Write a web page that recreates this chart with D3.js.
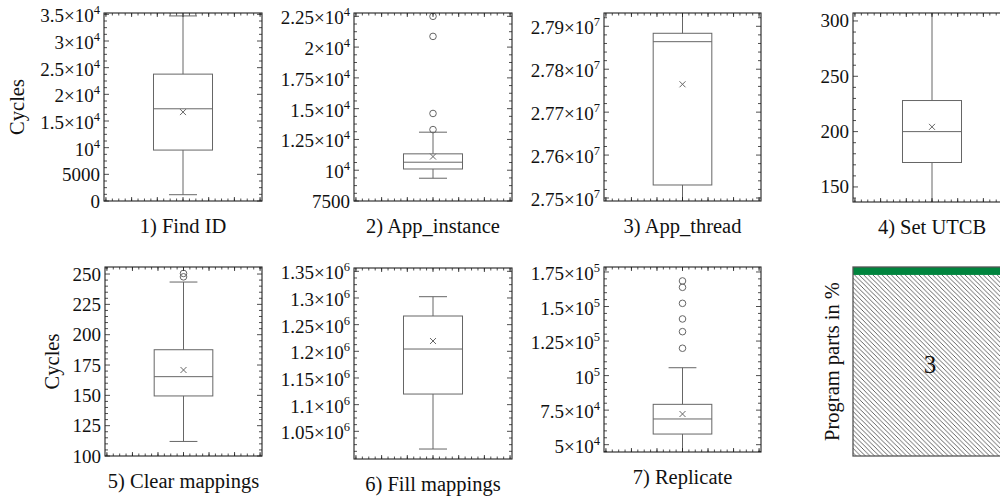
<!DOCTYPE html>
<html>
<head>
<meta charset="utf-8">
<script src="https://cdn.jsdelivr.net/npm/d3@7"></script>
<style>
  body { margin: 0; background: #fff; }
  text { font-family: "Liberation Serif", serif; fill: #111; }
</style>
</head>
<body>
<div id="chart"></div>
<script>
// box plot statistics, one entry per panel
var captions = ["1) Find ID", "2) App_instance", "3) App_thread", "4) Set UTCB",
                "5) Clear mappings", "6) Fill mappings", "7) Replicate"];
var lowWhisker  = [1180, 9350, 27480000, 120, 112, 1016800, 43000];
var q1          = [9550, 10100, 27530300, 172.1, 149.5, 1119900, 57700];
var median      = [17290, 10650, 27864200, 200, 165.4, 1204300, 68600];
var q3          = [23790, 11330, 27883750, 228.1, 187.6, 1266200, 79200];
var highWhisker = [34700, 13090, 27960000, 320, 243.4, 1302400, 105700];
var means       = [16670, 11110, 27764900, 204.3, 170.9, 1219300, 72200];
var outliers = [
  [],
  [13300, 14610, 20870, 22500],
  [],
  [],
  [247.7, 250.5],
  [],
  [119800, 131800, 141000, 152300, 163900, 168500]
];
var yDomains = [[0, 35250], [7500, 22770], [27493000, 27931000], [136.4, 307.2],
                [100, 255.8], [998100, 1356200], [44700, 178600]];
var yTicks = [
  [0, 5000, 10000, 15000, 20000, 25000, 30000, 35000],
  [7500, 10000, 12500, 15000, 17500, 20000, 22500],
  [27500000, 27600000, 27700000, 27800000, 27900000],
  [150, 200, 250, 300],
  [100, 125, 150, 175, 200, 225, 250],
  [1050000, 1100000, 1150000, 1200000, 1250000, 1300000, 1350000],
  [50000, 75000, 100000, 125000, 150000, 175000]
];
var yLabels = ["Cycles", "", "", "", "Cycles", "", ""];

// program parts panel (stacked, in %)
var partLabels = ["3", ""];
var partShares = [95.8, 4.2];

// frame placement of each panel
var frames = [
  {x0: 104, x1: 262, y0: 13,  y1: 201, minor: 3, ylab: 24},
  {x0: 354, x1: 512, y0: 13,  y1: 201, minor: 3},
  {x0: 604, x1: 761, y0: 13,  y1: 201, minor: 4},
  {x0: 853, x1: 1011, y0: 13, y1: 202, minor: 4},
  {x0: 105, x1: 262, y0: 267, y1: 456, minor: 4, ylab: 59},
  {x0: 354, x1: 512, y0: 268, y1: 459, minor: 3},
  {x0: 604, x1: 761, y0: 267, y1: 452, minor: 4}
];
var partsFrame = {x0: 853, x1: 1011, y0: 267, y1: 456};

var boxColor = "#666";
var frameColor = "#222";
var labelSize = 20.5;

var svg = d3.select("#chart")
  .append("svg")
  .attr("width", 1000)
  .attr("height", 498);

var defs = svg.append("defs");

// hatch pattern (north west lines)
var hatch = defs.append("pattern")
  .attr("id", "hatch")
  .attr("patternUnits", "userSpaceOnUse")
  .attr("width", 4.6)
  .attr("height", 4.6);
hatch.append("path")
  .attr("d", "M0,0 L4.6,4.6 M-1,3.6 L1,5.6 M3.6,-1 L5.6,1")
  .attr("stroke", "#222")
  .attr("stroke-width", 0.7);

function tickLabel(sel, v) {
  if (Math.abs(v) < 10000) {
    sel.text(String(v));
    return false;
  }
  var e = Math.floor(Math.log10(v));
  var m = +(v / Math.pow(10, e)).toFixed(4);
  sel.append("tspan").text((m === 1 ? "" : m + "\u00d7") + "10");
  sel.append("tspan").attr("font-size", 12.5).attr("dy", -8).text(e);
  return true;
}

frames.forEach(function (f, i) {
  var g = svg.append("g");

  var x = d3.scaleLinear().domain([0.385, 1.615]).range([f.x0, f.x1]);
  var y = d3.scaleLinear().domain(yDomains[i]).range([f.y1, f.y0]);

  defs.append("clipPath").attr("id", "clip" + i)
    .append("rect")
    .attr("x", f.x0).attr("y", f.y0)
    .attr("width", f.x1 - f.x0).attr("height", f.y1 - f.y0);

  var plot = g.append("g").attr("clip-path", "url(#clip" + i + ")");
  var cx = x(1), bw = x(1.2297) - x(1), cw = x(1.109) - x(1);

  // whiskers
  plot.append("line")
    .attr("x1", cx).attr("x2", cx)
    .attr("y1", y(highWhisker[i])).attr("y2", y(q3[i]))
    .attr("stroke", boxColor);
  plot.append("line")
    .attr("x1", cx).attr("x2", cx)
    .attr("y1", y(q1[i])).attr("y2", y(lowWhisker[i]))
    .attr("stroke", boxColor);
  [highWhisker[i], lowWhisker[i]].forEach(function (w) {
    plot.append("line")
      .attr("x1", cx - cw).attr("x2", cx + cw)
      .attr("y1", y(w)).attr("y2", y(w))
      .attr("stroke", boxColor);
  });

  // box and median
  plot.append("rect")
    .attr("x", cx - bw).attr("width", 2 * bw)
    .attr("y", y(q3[i])).attr("height", y(q1[i]) - y(q3[i]))
    .attr("fill", "none").attr("stroke", boxColor);
  plot.append("line")
    .attr("x1", cx - bw).attr("x2", cx + bw)
    .attr("y1", y(median[i])).attr("y2", y(median[i]))
    .attr("stroke", boxColor);

  // mean cross
  var my = y(means[i]);
  plot.append("path")
    .attr("d", "M" + (cx - 3) + "," + (my - 3) + "L" + (cx + 3) + "," + (my + 3) +
               "M" + (cx - 3) + "," + (my + 3) + "L" + (cx + 3) + "," + (my - 3))
    .attr("stroke", boxColor);

  // outliers
  plot.selectAll("circle")
    .data(outliers[i])
    .enter()
    .append("circle")
    .attr("cx", cx)
    .attr("cy", d => y(d))
    .attr("r", 3.3)
    .attr("fill", "none")
    .attr("stroke", boxColor);

  // y ticks, mirrored on the right
  var ticks = yTicks[i];
  var step = ticks[1] - ticks[0];
  var minors = [];
  for (var t = ticks[0] - step; t <= ticks[ticks.length - 1] + step; t += step) {
    for (var k = 1; k <= f.minor; k++) {
      var mv = t + k * step / (f.minor + 1);
      if (mv > yDomains[i][0] && mv < yDomains[i][1]) minors.push(mv);
    }
  }
  [[ticks, 5], [minors, 3]].forEach(function (p) {
    g.selectAll(null)
      .data(p[0])
      .enter()
      .append("path")
      .attr("d", d => "M" + f.x0 + "," + y(d) + "h" + p[1] + "M" + f.x1 + "," + y(d) + "h" + (-p[1]))
      .attr("stroke", frameColor)
      .attr("stroke-width", 0.8);
  });

  // x ticks, mirrored on top
  var xMajor = d3.range(-3, 4).map(d => 1 + d * 0.2).filter(d => d > 0.39 && d < 1.61);
  var xMinor = d3.range(-12, 13).map(d => 1 + d * 0.05).filter(d => d > 0.39 && d < 1.61);
  [[xMajor, 4], [xMinor, 2.5]].forEach(function (p) {
    g.selectAll(null)
      .data(p[0])
      .enter()
      .append("path")
      .attr("d", d => "M" + x(d) + "," + f.y1 + "v" + (-p[1]) + "M" + x(d) + "," + f.y0 + "v" + p[1])
      .attr("stroke", frameColor)
      .attr("stroke-width", 0.8);
  });

  // frame
  g.append("rect")
    .attr("x", f.x0).attr("y", f.y0)
    .attr("width", f.x1 - f.x0).attr("height", f.y1 - f.y0)
    .attr("fill", "none").attr("stroke", frameColor).attr("stroke-width", 1.1);

  // tick labels
  ticks.forEach(function (v) {
    var tx = g.append("text")
      .attr("x", f.x0 - 4)
      .attr("text-anchor", "end")
      .attr("font-size", 19);
    var sci = tickLabel(tx, v);
    tx.attr("y", y(v) + (sci ? 8 : 6.5));
  });

  // caption
  g.append("text")
    .attr("x", (f.x0 + f.x1) / 2)
    .attr("y", f.y1 + 32)
    .attr("text-anchor", "middle")
    .attr("font-size", labelSize)
    .text(captions[i]);

  if (yLabels[i]) {
    g.append("text")
      .attr("transform", "translate(" + f.ylab + "," + ((f.y0 + f.y1) / 2) + ") rotate(-90)")
      .attr("text-anchor", "middle")
      .attr("font-size", labelSize)
      .text(yLabels[i]);
  }
});

// program parts panel
(function () {
  var f = partsFrame;
  var y = d3.scaleLinear().domain([0, 100]).range([f.y1, f.y0]);
  var stack = d3.cumsum(partShares);
  var g = svg.append("g");

  g.selectAll("rect.part")
    .data(partShares)
    .enter()
    .append("rect")
    .attr("class", "part")
    .attr("x", f.x0)
    .attr("width", f.x1 - f.x0)
    .attr("y", (d, j) => y(stack[j]))
    .attr("height", (d, j) => y(stack[j] - d) - y(stack[j]))
    .attr("fill", (d, j) => j === 0 ? "url(#hatch)" : "#00843d");

  g.selectAll("text.part")
    .data(partShares)
    .enter()
    .append("text")
    .attr("class", "part")
    .attr("x", 930)
    .attr("y", (d, j) => (y(stack[j]) + y(stack[j] - d)) / 2 + 8)
    .attr("text-anchor", "middle")
    .attr("font-size", 25)
    .text((d, j) => partLabels[j]);

  g.append("rect")
    .attr("x", f.x0).attr("y", f.y0)
    .attr("width", f.x1 - f.x0).attr("height", f.y1 - f.y0)
    .attr("fill", "none").attr("stroke", "#555").attr("stroke-width", 1.3);

  g.append("text")
    .attr("transform", "translate(839," + ((f.y0 + f.y1) / 2) + ") rotate(-90)")
    .attr("text-anchor", "middle")
    .attr("font-size", labelSize)
    .text("Program parts in %");
})();
</script>
</body>
</html>
